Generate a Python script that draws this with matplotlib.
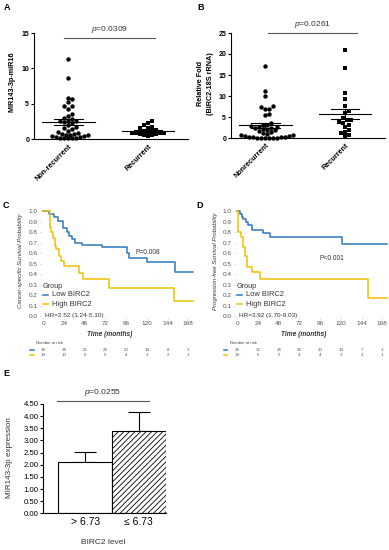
import numpy as np
import matplotlib
matplotlib.use("Agg")
import matplotlib.pyplot as plt

plt.rcParams['font.family'] = ['Liberation Sans', 'DejaVu Sans']
plt.rcParams['mathtext.fontset'] = 'custom'
plt.rcParams['mathtext.it'] = 'Liberation Sans:italic'
plt.rcParams['mathtext.rm'] = 'Liberation Sans'
plt.rcParams['hatch.linewidth'] = 0.6

# ---- data ----
a_nonrec = [11.3, 8.6, 5.8, 5.6, 5.2, 4.7, 4.6, 4.3, 3.6, 3.3, 3.0, 2.9, 2.6, 2.5, 2.5,
            2.4, 2.2, 2.0, 1.7, 1.5, 1.4, 1.2, 1.0, 0.8, 0.7, 0.7, 0.6, 0.6, 0.5, 0.4,
            0.4, 0.3, 0.3, 0.2, 0.2, 0.1, 0.1, 0.1]
a_rec = [2.5, 2.2, 2.0, 1.7, 1.6, 1.5, 1.3, 1.2, 1.1, 1.0, 0.9, 0.9, 0.8, 0.8, 0.7,
         0.7, 0.6, 0.5, 0.4]
b_nonrec = [17.1, 11.3, 10.0, 7.6, 7.3, 7.0, 6.8, 5.7, 5.5, 3.5, 3.2, 3.0, 2.8, 2.7,
            2.6, 2.5, 2.3, 2.2, 2.0, 1.8, 1.6, 1.5, 1.2, 1.0, 0.8, 0.6, 0.5, 0.4, 0.3,
            0.3, 0.2, 0.2, 0.1, 0.1, 0.1, 0.1, 0.05, 0.05]
b_rec = [21.0, 16.6, 10.7, 9.3, 7.6, 6.5, 6.0, 4.7, 4.4, 4.3, 3.8, 3.5, 3.0, 2.6, 1.8,
         1.5, 1.2, 0.6, 0.4]
a_labels = ["Non-recurrent", "Recurrent"]
b_labels = ["Nonrecurrent", "Recurrent"]

# Kaplan-Meier step data (months, survival)
c_low_t = [0, 7, 12, 17, 23, 27, 30, 33, 37, 45, 68, 97, 99, 120, 153]
c_low_s = [1.0, 0.974, 0.947, 0.905, 0.842, 0.80, 0.76, 0.73, 0.70, 0.68, 0.66, 0.60, 0.55, 0.51, 0.42]
c_high_t = [0, 8, 9, 11, 13, 15, 18, 20, 24, 27, 41, 46, 76, 151]
c_high_s = [1.0, 0.85, 0.80, 0.74, 0.67, 0.635, 0.57, 0.52, 0.48, 0.475, 0.41, 0.35, 0.27, 0.14]
d_low_t = [0, 3, 5, 7, 10, 12, 17, 30, 38, 121]
d_low_s = [1.0, 0.974, 0.947, 0.921, 0.895, 0.868, 0.816, 0.789, 0.757, 0.685]
d_high_t = [0, 1, 4, 7, 9, 11, 17, 26, 152]
d_high_s = [1.0, 0.80, 0.75, 0.66, 0.57, 0.47, 0.42, 0.35, 0.17]
km_end = 174
risk_times = [0, 24, 48, 72, 96, 120, 144, 168]
c_risk_low = [38, 34, 25, 24, 20, 14, 8, 3]
c_risk_high = [19, 10, 6, 5, 4, 3, 2, 1]
d_risk_low = [38, 30, 24, 24, 20, 14, 7, 3]
d_risk_high = [19, 6, 5, 4, 4, 3, 2, 1]

e_groups = ["> 6.73", "\u2264 6.73"]
e_means = [2.12, 3.39]
e_errs = [0.42, 0.79]

BLUE = "#2E78C0"
YELLOW = "#EFC000"

W, H = 389, 550
fig = plt.figure(figsize=(W / 100, H / 100), dpi=100)


def px_axes(left, top, right, bottom):
    return fig.add_axes([left / W, 1 - bottom / H, (right - left) / W, (bottom - top) / H])


def ftext(x, y, s, **kw):
    fig.text(x / W, 1 - y / H, s, **kw)


def swarm(ax, vals, xc, diam):
    # simple beeswarm in pixel space
    vals = np.asarray(vals, dtype=float)
    pts = ax.transData.transform(np.column_stack([np.full(len(vals), xc), vals]))
    ppu = ax.transData.transform((1, 0))[0] - ax.transData.transform((0, 0))[0]
    placed = []
    offs = np.zeros(len(vals))
    cands = [0.0]
    for k in range(1, 40):
        cands += [k * diam * 0.5, -k * diam * 0.5]
    for i in np.argsort(vals):
        y = pts[i, 1]
        for dx in cands:
            if all(np.hypot(dx - px, y - py) >= diam for px, py in placed):
                placed.append((dx, y))
                offs[i] = dx
                break
    return xc + offs / ppu


def mean_sem(ax, vals, xc):
    v = np.asarray(vals)
    m = v.mean()
    s = v.std(ddof=1) / np.sqrt(len(v))
    ax.plot([xc - 0.33, xc + 0.33], [m, m], color='black', lw=0.8, zorder=4)
    ax.plot([xc, xc], [m - s, m + s], color='black', lw=0.8, zorder=4)
    for yy in (m - s, m + s):
        ax.plot([xc - 0.18, xc + 0.18], [yy, yy], color='black', lw=0.8, zorder=4)


def dot_panel(ax, g1, g2, ymax, step, labels, ptxt, pline_y, ptxt_y, pline_x):
    ax.set_xlim(-0.43, 1.5)
    ax.set_ylim(0, ymax)
    ax.set_yticks(np.arange(0, ymax + 1, step))
    for sp in ('top', 'right'):
        ax.spines[sp].set_visible(False)
    for sp in ('left', 'bottom'):
        ax.spines[sp].set_linewidth(0.8)
    ax.tick_params(direction='out', length=2.5, width=0.8, labelsize=5, pad=1)
    for lab in ax.get_yticklabels():
        lab.set_fontweight('bold')
    ax.set_xticks([0, 1])
    ax.set_xticklabels(labels, rotation=45, ha='right', rotation_mode='anchor',
                       fontsize=5.2, fontweight='bold')
    ax.tick_params(axis='x', length=0, pad=3)
    x1 = swarm(ax, g1, 0, 4.0)
    x2 = swarm(ax, g2, 1, 4.0)
    ax.scatter(x1, g1, s=10, c='black', marker='o', linewidths=0, clip_on=False, zorder=3)
    ax.scatter(x2, g2, s=9, c='black', marker='s', linewidths=0, clip_on=False, zorder=3)
    mean_sem(ax, g1, 0)
    mean_sem(ax, g2, 1)
    ax.plot(pline_x, [pline_y, pline_y], color='#555555', lw=0.8, clip_on=False)
    ax.text(np.mean(pline_x), ptxt_y, ptxt, ha='center', va='center', fontsize=6, color='#333333')


# ---- A ----
axA = px_axes(34, 33, 188, 139)
dot_panel(axA, a_nonrec, a_rec, 15, 5, a_labels, "$p$=0.0309", 14.3, 15.5, [-0.06, 1.09])
ftext(12, 82, "MIR143-3p-miR16", rotation=90, ha='center', va='center', fontsize=5.2, fontweight='bold')

# ---- B ----
axB = px_axes(231, 33, 385, 138)
dot_panel(axB, b_nonrec, b_rec, 25, 5, b_labels, "$p$=0.0261", 25.1, 27.0, [0.03, 1.15])
ftext(205, 84, "Relative Fold\n(BIRC2-18S rRNA)", rotation=90, ha='center', va='center',
      fontsize=5.2, fontweight='bold', multialignment='center', linespacing=1.6)


# ---- C / D ----
def km_panel(ox, lo_t, lo_s, hi_t, hi_s, ylabel, ptxt, pxy, hr, risk_lo, risk_hi):
    ax = px_axes(ox + 40.7, 207.9, ox + 195.2, 318.1)
    ax.set_xlim(-3, 176)
    ax.set_ylim(-0.02, 1.03)
    ax.step(lo_t + [km_end], lo_s + [lo_s[-1]], where='post', color=BLUE, lw=1.1)
    ax.step(hi_t + [km_end], hi_s + [hi_s[-1]], where='post', color=YELLOW, lw=1.1)
    for sp in ax.spines.values():
        sp.set_visible(False)
    ax.set_yticks(np.arange(0, 1.01, 0.1))
    ax.set_yticklabels([f"{v:.1f}" for v in np.arange(0, 1.01, 0.1)])
    ax.set_xticks(risk_times)
    ax.tick_params(length=0.8, width=0.4, color='#999999', labelsize=4.6,
                   labelcolor='#555555', pad=1.5)
    ftext(ox + 110, 334, "Time (months)", ha='center', va='center', fontsize=4.8,
          fontweight='bold', fontstyle='italic', color='#333333')
    ftext(ox + 21, 261, ylabel, rotation=90, ha='center', va='center', fontsize=4.3,
          fontstyle='italic', color='#333333')
    ftext(ox + pxy[0], pxy[1], ptxt, ha='center', va='center', fontsize=4.8, color='#333333')
    ftext(ox + 43, 287, "Group", ha='left', va='center', fontsize=5.2, color='#333333')
    for yy, col, lab in ((295, BLUE, "Low BIRC2"), (304, YELLOW, "High BIRC2")):
        fig.add_artist(plt.Line2D([(ox + 43) / W, (ox + 48) / W], [1 - yy / H, 1 - yy / H],
                                  color=col, lw=1.1))
        ftext(ox + 52, yy, lab, ha='left', va='center', fontsize=5.4, color='#333333')
    ftext(ox + 45, 315, hr, ha='left', va='center', fontsize=4.6, color='#333333')
    ftext(ox + 36, 343, "Number at risk", ha='left', va='center', fontsize=3, color='#444444')
    for yy, col, vals in ((350, BLUE, risk_lo), (355, YELLOW, risk_hi)):
        fig.add_artist(plt.Line2D([(ox + 30) / W, (ox + 33.5) / W], [1 - yy / H, 1 - yy / H],
                                  color=col, lw=1.1))
        for t, n in zip(risk_times, vals):
            x = ax.transData.transform((t, 0))[0]
            fig.text(x / W, 1 - yy / H, str(n), ha='center', va='center', fontsize=3.2,
                     color='#555555')
    return ax


axC = km_panel(0, c_low_t, c_low_s, c_high_t, c_high_s, "Cancer-specific Survival Probability",
               "P=0.008", (148, 252), "HR=2.52 (1.24-5.10)", c_risk_low, c_risk_high)
axD = km_panel(194, d_low_t, d_low_s, d_high_t, d_high_s, "Progression-free Survival Probability",
               "P<0.001", (138, 258), "HR=3.92 (1.70-9.03)", d_risk_low, d_risk_high)

# ---- E ----
axE = px_axes(43.3, 404, 165.7, 513.3)
axE.set_xlim(-0.78, 1.5)
axE.set_ylim(0, 4.5)
axE.bar([0, 1], e_means, width=1.0, color='white', edgecolor='black', linewidth=0.8,
        hatch=[None, '//////'], zorder=2)
axE.errorbar([0, 1], e_means, yerr=[[0, 0], e_errs], fmt='none', ecolor='black',
             elinewidth=0.8, capsize=8, capthick=0.8, zorder=1)
for sp in ('top', 'right'):
    axE.spines[sp].set_visible(False)
for sp in ('left', 'bottom'):
    axE.spines[sp].set_linewidth(0.8)
axE.set_yticks(np.arange(0, 4.51, 0.5))
axE.set_yticklabels([f"{v:.2f}" for v in np.arange(0, 4.51, 0.5)])
axE.set_xticks([0, 1])
axE.set_xticklabels(e_groups, fontsize=7.5)
axE.tick_params(axis='y', direction='out', length=2.5, width=0.8, labelsize=5.6, pad=1)
axE.tick_params(axis='x', length=0, pad=3)
axE.plot([-0.52, 1.18], [4.62, 4.62], color='#555555', lw=0.8, clip_on=False)
axE.text(0.33, 4.98, "$p$=0.0255", ha='center', va='center', fontsize=6, color='#333333')
ftext(103, 542, "BIRC2 level", ha='center', va='center', fontsize=6, color='#333333')
ftext(10, 458, "MIR143-3p expression", rotation=90, ha='center', va='center', fontsize=5.8,
      color='#333333')

# panel letters
for x, y, s in ((7, 8, "A"), (201, 8, "B"), (6, 205, "C"), (200, 205, "D"), (6, 373, "E")):
    ftext(x, y, s, ha='center', va='center', fontsize=6.5, fontweight='bold')

fig.savefig("out.png", dpi=100)
